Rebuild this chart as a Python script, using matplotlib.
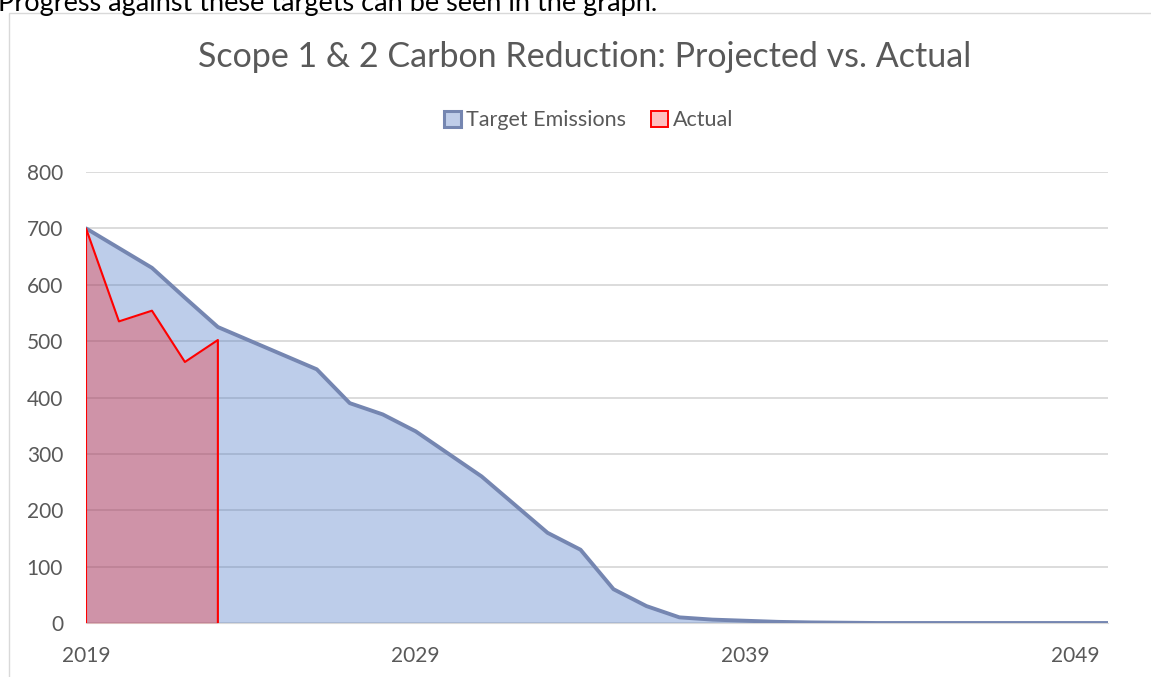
import matplotlib
matplotlib.use("Agg")
import matplotlib.pyplot as plt
from matplotlib.patches import Patch, Rectangle

plt.rcParams['font.family'] = ['Lato', 'DejaVu Sans']

# data
years = list(range(2019, 2051))
target = [700, 665, 630, 577, 525, 500, 475, 450, 390, 370, 340, 300,
          260, 210, 160, 130, 60, 30, 10, 6, 4, 2, 1, 0.5,
          0, 0, 0, 0, 0, 0, 0, 0]
actual_years = [2019, 2020, 2021, 2022, 2023]
actual = [700, 535, 554, 463, 502]
x_labels = [2019, 2029, 2039, 2049]
y_ticks = [0, 100, 200, 300, 400, 500, 600, 700, 800]

TEXT = '#595959'
GRID = '#D9D9D9'
BLUE = '#4472C4'
BLUE_LINE = '#7586B1'

W, H = 1151, 677
fig = plt.figure(figsize=(W / 100, H / 100), dpi=100)

# chart frame (cut off at right and bottom like the screenshot)
fig.patches.append(Rectangle((9 / W, -0.1), 2, 1 - 12.5 / H + 0.1, transform=fig.transFigure,
                             fill=False, edgecolor=GRID, linewidth=1.0))

# sentence above the chart, cropped at the top edge as in the screenshot
fig.text(-2 / W, 1 - 10.5 / H, 'Progress against these targets can be seen in the graph.',
         fontsize=19.5, color='black', ha='left', va='baseline')

ax = fig.add_axes([86 / W, 1 - 623 / H, (1108 - 86) / W, (623 - 172) / H])

ax.fill_between(years, target, 0, color=BLUE, alpha=0.35, linewidth=0, zorder=2)
ax.plot(years, target, color=BLUE_LINE, linewidth=2.8, solid_joinstyle='round',
        solid_capstyle='round', zorder=3)

ax.fill_between(actual_years, actual, 0, color='red', alpha=0.28, linewidth=0, zorder=4)
edge_x = [actual_years[0]] + actual_years + [actual_years[-1]]
edge_y = [0] + actual + [0]
ax.plot(edge_x, edge_y, color='red', linewidth=1.5, zorder=5)

ax.set_xlim(years[0], years[-1])
ax.set_ylim(0, 800)
ax.set_yticks(y_ticks)
ax.set_xticks(x_labels)
ax.yaxis.grid(True, color=GRID, linewidth=1.3, zorder=0)
ax.set_axisbelow(True)
for s in ['top', 'right', 'left']:
    ax.spines[s].set_visible(False)
ax.spines['bottom'].set_color(GRID)
ax.tick_params(axis='both', length=0, labelsize=15, colors=TEXT)
ax.tick_params(axis='y', pad=16.5)
ax.tick_params(axis='x', pad=16.5)

fig.text(585 / W, 1 - 66.7 / H, 'Scope 1 & 2 Carbon Reduction: Projected vs. Actual',
         fontsize=24.5, color=TEXT, ha='center', va='baseline')

handles = [Patch(facecolor='#BFCDE9', edgecolor=BLUE_LINE, linewidth=2.2, label='Target Emissions'),
           Patch(facecolor='#FFBFBF', edgecolor='red', linewidth=1.4, label='Actual')]
fig.legend(handles=handles, loc='center', bbox_to_anchor=(589 / W, 1 - 120.5 / H), ncol=2,
           frameon=False, fontsize=15.5, labelcolor=TEXT, handlelength=0.78, handleheight=0.78,
           handletextpad=0.25, columnspacing=1.15)

fig.savefig('out.png', dpi=100)
